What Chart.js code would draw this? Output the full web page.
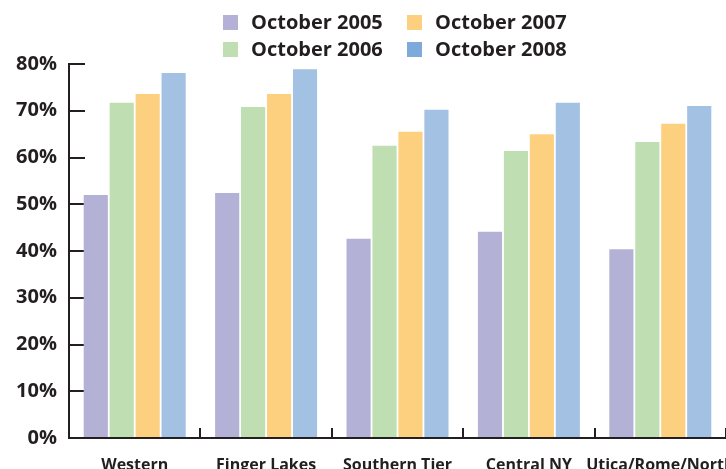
<!DOCTYPE html>
<html>
<head>
<meta charset="utf-8">
<script src="https://cdn.jsdelivr.net/npm/chart.js@4/dist/chart.umd.min.js"></script>
<style>
  html, body { margin: 0; padding: 0; background: #ffffff; }
  #wrap { width: 726px; height: 469px; position: relative; }
</style>
</head>
<body>
<div id="wrap"><canvas id="c" width="726" height="469"></canvas></div>
<script>
const categories = ['Western', 'Finger Lakes', 'Southern Tier', 'Central NY', 'Utica/Rome/North'];
const seriesNames = ['October 2005', 'October 2006', 'October 2007', 'October 2008'];
const oct2005 = [52.0, 52.4, 42.6, 44.1, 40.4];
const oct2006 = [71.7, 70.8, 62.5, 61.4, 63.3];
const oct2007 = [73.6, 73.6, 65.5, 65.0, 67.2];
const oct2008 = [78.1, 78.9, 70.2, 71.7, 71.0];
const yTickValues = [0, 10, 20, 30, 40, 50, 60, 70, 80];

const barColors = ['#b3b2d6', '#bfdfb3', '#fdd080', '#a3c1e3'];
const legendColors = ['#b3b2d6', '#bfdfb3', '#fdd080', '#7eaadb'];
const ink = '#231f20';
const FONT = "'Open Sans', 'DejaVu Sans', sans-serif";

const legendPlugin = {
  id: 'gridLegend',
  afterDraw(chart) {
    const ctx = chart.ctx;
    const order = [[0, 2], [1, 3]];
    const colX = [223, 407];
    const rowY = [15, 42];
    ctx.save();
    ctx.font = 'bold 20px ' + FONT;
    ctx.textBaseline = 'middle';
    ctx.textAlign = 'left';
    order.forEach((row, r) => {
      row.forEach((di, c) => {
        const ds = chart.data.datasets[di];
        ctx.fillStyle = legendColors[di];
        ctx.fillRect(colX[c], rowY[r], 15, 15);
        ctx.fillStyle = ink;
        ctx.fillText(ds.label, colX[c] + 28, rowY[r] + 8);
      });
    });
    ctx.restore();
  }
};

const datasetsValues = [oct2005, oct2006, oct2007, oct2008];

new Chart(document.getElementById('c'), {
  type: 'bar',
  data: {
    labels: categories,
    datasets: datasetsValues.map((vals, i) => ({
      label: seriesNames[i],
      data: vals,
      backgroundColor: barColors[i],
      borderWidth: 0,
      categoryPercentage: 0.79,
      barPercentage: 0.93
    }))
  },
  options: {
    responsive: false,
    animation: false,
    layout: { padding: { top: 64, left: 0, right: 0, bottom: 0 } },
    plugins: {
      legend: { display: false },
      tooltip: { enabled: false },
      title: { display: false }
    },
    scales: {
      x: {
        offset: true,
        grid: {
          offset: true,
          drawOnChartArea: false,
          drawTicks: true,
          tickLength: -10,
          color: ink,
          lineWidth: 2
        },
        border: { display: true, color: ink, width: 2 },
        ticks: {
          color: ink,
          font: { family: FONT, size: 16, weight: 'bold' },
          padding: 28,
          maxRotation: 0,
          minRotation: 0,
          autoSkip: false
        },
        afterFit(s) { s.height = 31; s.paddingLeft = 0; s.paddingRight = 0; }
      },
      y: {
        min: 0,
        max: 80,
        grid: {
          drawOnChartArea: false,
          drawTicks: true,
          tickLength: -16,
          color: ink,
          lineWidth: 2
        },
        border: { display: true, color: ink, width: 2 },
        afterBuildTicks(s) { s.ticks = yTickValues.map(v => ({ value: v })); },
        ticks: {
          color: ink,
          font: { family: FONT, size: 20, weight: 'bold' },
          padding: 28,
          callback: v => v + '%'
        },
        afterFit(s) { s.width = 69; s.paddingTop = 0; s.paddingBottom = 0; }
      }
    }
  },
  plugins: [legendPlugin]
});
</script>
</body>
</html>
